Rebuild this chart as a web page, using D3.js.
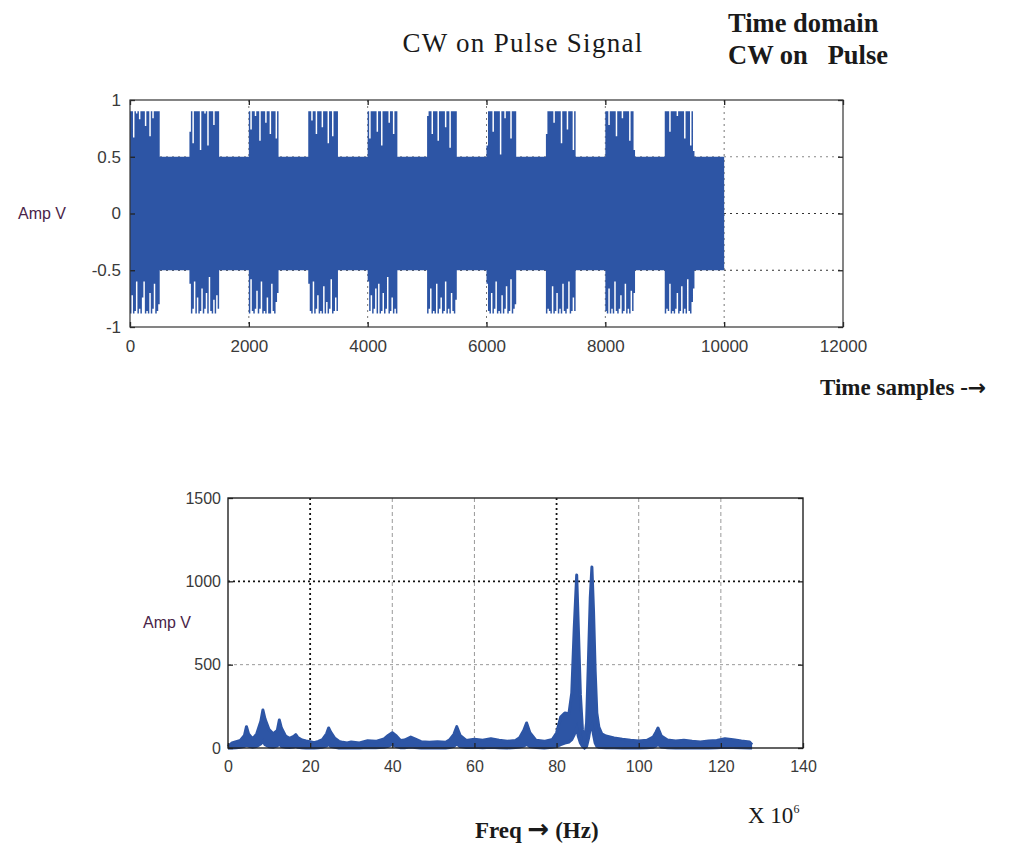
<!doctype html>
<html>
<head>
<meta charset="utf-8">
<script src="https://d3js.org/d3.v7.min.js"></script>
<style>
  body { margin: 0; background: #fff; }
  .tick text { font-family: "Liberation Sans", Arial, sans-serif; font-size: 17px; fill: #3a3a3a; }
  .bot .tick text { font-size: 16px; }
  .serif { font-family: "Liberation Serif", "Times New Roman", serif; fill: #1a1a1a; }
  .arrow { font-family: "DejaVu Sans", sans-serif; }
  .ylab { font-family: "Liberation Sans", Arial, sans-serif; font-size: 16px; fill: #4a2448; }
</style>
</head>
<body>
<svg width="1016" height="856"></svg>
<script>
// ---- time domain data ----
var timeTicks = [0, 2000, 4000, 6000, 8000, 10000, 12000];
var ampTicks = [-1, -0.5, 0, 0.5, 1];
var burstStarts = [0, 1000, 2000, 3000, 4000, 5000, 6000, 7000, 8000, 9000];
var burstLen = 500, binLen = 25, signalEnd = 10000, carrierAmp = 0.5;

// upper envelope of each burst, one value per 25-sample bin
var burstHi = [
  [0.9,0.9,0.67,0.9,0.88,0.9,0.83,0.9,0.9,0.9,0.77,0.9,0.9,0.68,0.9,0.84,0.9,0.9,0.9,0.9],
  [0.72,0.9,0.62,0.9,0.9,0.9,0.9,0.56,0.9,0.9,0.88,0.9,0.6,0.9,0.9,0.9,0.78,0.9,0.9,0.9],
  [0.9,0.74,0.9,0.9,0.86,0.9,0.9,0.64,0.9,0.9,0.9,0.8,0.9,0.9,0.7,0.9,0.9,0.9,0.66,0.9],
  [0.9,0.9,0.82,0.9,0.9,0.7,0.9,0.9,0.9,0.76,0.9,0.9,0.9,0.62,0.9,0.9,0.68,0.9,0.9,0.9],
  [0.9,0.66,0.9,0.9,0.9,0.9,0.72,0.9,0.9,0.6,0.9,0.9,0.9,0.9,0.8,0.9,0.9,0.7,0.9,0.9],
  [0.86,0.9,0.9,0.7,0.9,0.9,0.9,0.64,0.9,0.9,0.9,0.9,0.76,0.9,0.9,0.58,0.9,0.9,0.9,0.9],
  [0.6,0.9,0.9,0.9,0.72,0.9,0.9,0.9,0.9,0.52,0.9,0.9,0.84,0.9,0.9,0.9,0.66,0.9,0.9,0.9],
  [0.7,0.9,0.9,0.9,0.9,0.8,0.9,0.9,0.9,0.9,0.62,0.9,0.9,0.9,0.74,0.9,0.9,0.9,0.56,0.9],
  [0.9,0.9,0.78,0.9,0.9,0.9,0.9,0.68,0.9,0.9,0.9,0.84,0.9,0.9,0.9,0.9,0.64,0.9,0.9,0.56],
  [0.9,0.9,0.9,0.72,0.9,0.9,0.9,0.9,0.86,0.9,0.9,0.9,0.9,0.66,0.9,0.9,0.9,0.6,0.9,0.55]
];
// lower envelope (negative side) of each burst
var burstLo = [
  [-0.88,-0.72,-0.88,-0.86,-0.6,-0.88,-0.84,-0.88,-0.74,-0.6,-0.88,-0.86,-0.88,-0.7,-0.88,-0.84,-0.62,-0.88,-0.86,-0.8],
  [-0.62,-0.88,-0.84,-0.6,-0.88,-0.74,-0.88,-0.86,-0.66,-0.88,-0.84,-0.7,-0.88,-0.56,-0.86,-0.88,-0.76,-0.88,-0.72,-0.84],
  [-0.88,-0.58,-0.86,-0.88,-0.84,-0.68,-0.88,-0.84,-0.6,-0.88,-0.86,-0.88,-0.74,-0.88,-0.88,-0.62,-0.86,-0.88,-0.78,-0.7],
  [-0.62,-0.86,-0.88,-0.6,-0.88,-0.84,-0.72,-0.88,-0.86,-0.88,-0.64,-0.88,-0.78,-0.88,-0.84,-0.58,-0.88,-0.86,-0.74,-0.86],
  [-0.6,-0.86,-0.72,-0.88,-0.84,-0.66,-0.88,-0.62,-0.88,-0.86,-0.7,-0.88,-0.84,-0.56,-0.88,-0.86,-0.74,-0.88,-0.84,-0.88],
  [-0.88,-0.84,-0.66,-0.88,-0.86,-0.88,-0.62,-0.88,-0.84,-0.74,-0.88,-0.86,-0.6,-0.88,-0.84,-0.88,-0.7,-0.86,-0.88,-0.76],
  [-0.62,-0.86,-0.88,-0.7,-0.88,-0.84,-0.6,-0.88,-0.86,-0.88,-0.72,-0.88,-0.84,-0.64,-0.88,-0.86,-0.58,-0.88,-0.84,-0.8],
  [-0.88,-0.84,-0.86,-0.88,-0.64,-0.88,-0.86,-0.7,-0.88,-0.84,-0.88,-0.62,-0.86,-0.88,-0.84,-0.6,-0.88,-0.86,-0.74,-0.86],
  [-0.86,-0.88,-0.66,-0.88,-0.84,-0.88,-0.6,-0.86,-0.88,-0.84,-0.72,-0.88,-0.86,-0.62,-0.88,-0.84,-0.88,-0.68,-0.86,-0.7],
  [-0.88,-0.84,-0.86,-0.62,-0.88,-0.86,-0.88,-0.84,-0.7,-0.88,-0.86,-0.64,-0.88,-0.84,-0.88,-0.58,-0.86,-0.88,-0.78,-0.66]
];

// ---- spectrum data ----
var freqTicks = [0, 20, 40, 60, 80, 100, 120, 140];
var specTicks = [0, 500, 1000, 1500];
var specFreq = [0,1,2,3,4,4.5,5,6,7,8,8.5,9,10,11,12,12.5,13,14,15,16,16.5,17,18,19,20,21,22,23,24,24.5,25,26,27,28,29,30,32,34,36,38,39,40,41,42,43,44.5,45.5,47,49,51,53,54,55,55.7,56.5,58,60,62,64,66,68,70,71,72,72.7,73.5,75,77,79,80,81,82,83,83.7,84.3,84.9,85.3,85.8,86.3,86.8,87.3,87.8,88.2,88.6,89,89.4,89.8,90.3,91,92,94,96,98,100,102,103.5,104.2,104.7,105.5,107,109,111,113,115,117,119,121,123,125,127,127.6];
var specHi = [10,30,38,45,75,128,85,55,85,160,228,175,110,85,105,168,120,72,58,70,80,62,48,42,38,32,40,50,85,120,95,58,40,34,30,36,30,44,40,55,75,92,72,45,48,66,55,38,35,38,34,50,82,128,76,45,52,46,56,46,40,45,62,105,150,92,46,40,52,90,185,210,205,330,720,1038,720,320,110,40,150,560,900,1086,820,460,210,125,85,72,60,52,46,42,46,65,95,120,72,48,42,46,40,36,42,45,56,50,42,36,20];
var specLo = [0,0,2,5,10,20,12,5,10,25,40,20,8,5,12,25,10,5,3,6,10,5,2,0,0,0,2,4,12,22,10,4,0,0,0,2,0,3,2,5,10,22,8,2,2,6,3,0,0,2,0,3,10,25,8,3,4,2,5,2,0,3,6,12,22,8,3,0,4,8,20,30,35,50,80,120,70,30,10,0,10,60,120,140,80,30,10,5,3,2,2,0,0,0,2,5,12,22,6,2,0,2,0,0,0,2,4,3,2,0,0];

var blue = "#2d55a5";
var svg = d3.select("svg");

function styleAxis(g) {
  g.select(".domain").remove();
  g.selectAll(".tick line").attr("stroke", "#222").attr("stroke-width", 1.3);
}

// ================= top chart =================
var t = { left: 130, right: 843, top: 100, bottom: 327 };
var xT = d3.scaleLinear().domain([0, 12000]).range([t.left, t.right]);
var yT = d3.scaleLinear().domain([-1, 1]).range([t.bottom, t.top]);

// grid
svg.append("g").selectAll("line").data(timeTicks.slice(1, -1)).enter().append("line")
  .attr("x1", d => xT(d)).attr("x2", d => xT(d)).attr("y1", t.top).attr("y2", t.bottom)
  .attr("stroke", "#777").attr("stroke-dasharray", "2,4");
svg.append("g").selectAll("line").data(ampTicks.slice(1, -1)).enter().append("line")
  .attr("x1", t.left).attr("x2", t.right).attr("y1", d => yT(d)).attr("y2", d => yT(d))
  .attr("stroke", d => d === 0.5 ? "#888" : "#333").attr("stroke-width", 1.2)
  .attr("stroke-dasharray", "2,4");

// envelope points built from the burst tables
var env = [];
burstStarts.forEach(function (s, i) {
  burstHi[i].forEach(function (v, j) {
    env.push({ x: s + j * binLen, hi: v, lo: burstLo[i][j] });
  });
  env.push({ x: s + burstLen, hi: carrierAmp, lo: -carrierAmp });
});
env.push({ x: signalEnd, hi: carrierAmp, lo: -carrierAmp });

svg.append("path").datum(env)
  .attr("fill", blue)
  .attr("d", d3.area().curve(d3.curveStepAfter)
    .x(d => xT(d.x)).y0(d => yT(d.lo)).y1(d => yT(d.hi)));

// axes
var gxb = svg.append("g").attr("transform", "translate(0," + t.bottom + ")")
  .call(d3.axisBottom(xT).tickValues(timeTicks).tickSize(-5).tickPadding(13).tickFormat(d3.format("d")));
styleAxis(gxb);
var gxt = svg.append("g").attr("transform", "translate(0," + t.top + ")")
  .call(d3.axisTop(xT).tickValues(timeTicks).tickSize(-5).tickFormat(""));
styleAxis(gxt);
var gyl = svg.append("g").attr("transform", "translate(" + t.left + ",0)")
  .call(d3.axisLeft(yT).tickValues(ampTicks).tickSize(-5).tickPadding(9).tickFormat(d => d));
styleAxis(gyl);
var gyr = svg.append("g").attr("transform", "translate(" + t.right + ",0)")
  .call(d3.axisRight(yT).tickValues(ampTicks).tickSize(-5).tickFormat(""));
styleAxis(gyr);
svg.append("rect").attr("x", t.left).attr("y", t.top)
  .attr("width", t.right - t.left).attr("height", t.bottom - t.top)
  .attr("fill", "none").attr("stroke", "#333").attr("stroke-width", 1.2);

// ================= bottom chart =================
var b = { left: 228, right: 803, top: 498, bottom: 748 };
var xB = d3.scaleLinear().domain([0, 140]).range([b.left, b.right]);
var yB = d3.scaleLinear().domain([0, 1500]).range([b.bottom, b.top]);

svg.append("g").selectAll("line").data(freqTicks.slice(1, -1)).enter().append("line")
  .attr("x1", d => xB(d)).attr("x2", d => xB(d)).attr("y1", b.top).attr("y2", b.bottom)
  .attr("stroke", d => (d === 20 || d === 80) ? "#111" : "#999")
  .attr("stroke-width", d => (d === 20 || d === 80) ? 1.8 : 1)
  .attr("stroke-dasharray", d => (d === 20 || d === 80) ? "2,3" : "4,3");
svg.append("g").selectAll("line").data(specTicks.slice(1, -1)).enter().append("line")
  .attr("x1", b.left).attr("x2", b.right).attr("y1", d => yB(d)).attr("y2", d => yB(d))
  .attr("stroke", d => d === 1000 ? "#111" : "#999")
  .attr("stroke-width", d => d === 1000 ? 1.8 : 1)
  .attr("stroke-dasharray", d => d === 1000 ? "2,3" : "3,3");

var spec = specFreq.map((f, i) => ({ f: f, hi: specHi[i], lo: specLo[i] }));
svg.append("path").datum(spec)
  .attr("fill", blue)
  .attr("d", d3.area().x(d => xB(d.f)).y0(d => yB(d.lo)).y1(d => yB(d.hi)));
svg.append("path").datum(spec)
  .attr("fill", "none").attr("stroke", blue).attr("stroke-width", 3)
  .attr("stroke-linejoin", "round")
  .attr("d", d3.line().x(d => xB(d.f)).y(d => yB(d.hi)));
svg.append("path").datum(spec)
  .attr("fill", "none").attr("stroke", blue).attr("stroke-width", 3)
  .attr("d", d3.line().x(d => xB(d.f)).y(d => yB(d.lo)));

var bxb = svg.append("g").attr("class", "bot").attr("transform", "translate(0," + b.bottom + ")")
  .call(d3.axisBottom(xB).tickValues(freqTicks).tickSize(-5).tickPadding(13));
styleAxis(bxb);
var byl = svg.append("g").attr("class", "bot").attr("transform", "translate(" + b.left + ",0)")
  .call(d3.axisLeft(yB).tickValues(specTicks).tickSize(-5).tickPadding(7).tickFormat(d3.format("d")));
styleAxis(byl);
var byr = svg.append("g").attr("transform", "translate(" + b.right + ",0)")
  .call(d3.axisRight(yB).tickValues(specTicks).tickSize(-5).tickFormat(""));
styleAxis(byr);
svg.append("rect").attr("x", b.left).attr("y", b.top)
  .attr("width", b.right - b.left).attr("height", b.bottom - b.top)
  .attr("fill", "none").attr("stroke", "#222").attr("stroke-width", 1.4);

// ================= texts =================
svg.append("text").attr("class", "serif").attr("x", 523).attr("y", 52)
  .attr("text-anchor", "middle").style("font-size", "27px").style("letter-spacing", "1.3px")
  .text("CW on Pulse Signal");
svg.append("text").attr("class", "serif").attr("x", 728).attr("y", 32)
  .style("font-size", "26.5px").style("font-weight", "bold").text("Time domain");
svg.append("text").attr("class", "serif").attr("x", 728).attr("y", 64)
  .style("font-size", "26.5px").style("font-weight", "bold").style("white-space", "pre")
  .text("CW on   Pulse");
svg.append("text").attr("class", "ylab").attr("x", 18).attr("y", 219).text("Amp V");
var ts = svg.append("text").attr("class", "serif").attr("x", 820).attr("y", 395)
  .style("font-size", "23px").style("font-weight", "bold");
ts.append("tspan").text("Time samples -");
ts.append("tspan").attr("class", "arrow").style("font-size", "22px").text("\u2192");

svg.append("text").attr("class", "ylab").attr("x", 143).attr("y", 628).text("Amp V");
var fq = svg.append("text").attr("class", "serif").attr("x", 475).attr("y", 838)
  .style("font-size", "23px").style("font-weight", "bold");
fq.append("tspan").text("Freq ");
fq.append("tspan").attr("class", "arrow").style("font-size", "26px").text("\u2192");
fq.append("tspan").text(" (Hz)");
var xp = svg.append("text").attr("class", "serif").attr("x", 748).attr("y", 823)
  .style("font-size", "23px");
xp.append("tspan").text("X 10");
xp.append("tspan").attr("dy", -10).style("font-size", "12px").text("6");
</script>
</body>
</html>
